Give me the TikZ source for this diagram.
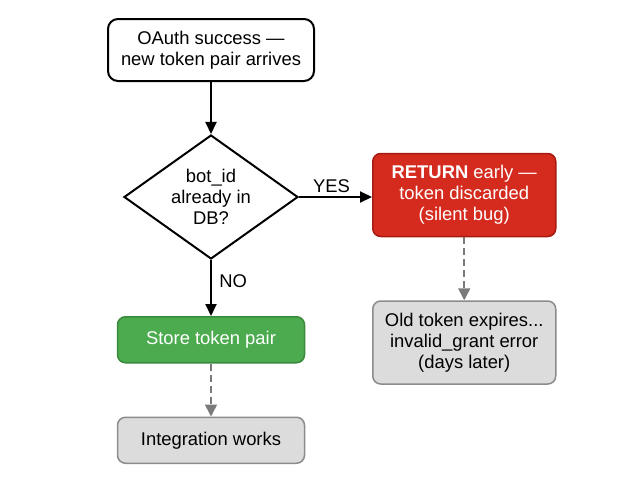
\documentclass[tikz,border=0pt]{standalone}
\usepackage{fontspec}
\setmainfont{Liberation Sans}
\usepackage{tikz}
\usetikzlibrary{arrows.meta,positioning,shapes.geometric}
\definecolor{FlowRed}{HTML}{D52B1E}
\definecolor{FlowRedDark}{HTML}{A61C12}
\definecolor{FlowGreen}{HTML}{4DAB4F}
\definecolor{FlowGreenDark}{HTML}{3A8A3C}
\definecolor{FlowGray}{HTML}{DCDCDC}
\definecolor{FlowGrayDark}{HTML}{8C8C8C}
\definecolor{FlowDash}{HTML}{7A7A7A}

\begin{document}
\begin{tikzpicture}[x=1pt,y=-1pt,every node/.style={font=\fontsize{18.4}{21}\selectfont},
  box/.style={draw,rounded corners=8pt,line width=1.5pt,align=center,inner sep=0pt},
  arr/.style={-{Triangle[length=12pt,width=11pt]},line width=2pt},
  darr/.style={-{Triangle[length=12pt,width=12pt]},line width=1.6pt,FlowDash,dash pattern=on 7pt off 4pt}]
\useasboundingbox (0,0) rectangle (638,477);
\node[box,fill=white,line width=2pt,rounded corners=10pt,minimum width=206pt,minimum height=62pt] (start) at (211,50) {OAuth success ---\\new token pair arrives};
\node[draw,diamond,line width=2pt,shape aspect=1.4,inner sep=0pt,minimum width=174pt,minimum height=124pt,align=center,below=52pt of start] (dec) {bot\_id\\already in\\DB?};
\node[box,fill=FlowRed,draw=FlowRedDark,text=white,minimum width=183pt,minimum height=83pt,right=73pt of dec,yshift=2pt] (ret) {\textbf{RETURN} early ---\\token discarded\\(silent bug)};
\node[box,fill=FlowGray,draw=FlowGrayDark,minimum width=183pt,minimum height=83pt,below=63pt of ret] (old) {Old token expires...\\invalid\_grant error\\(days later)};
\node[box,fill=FlowGreen,draw=FlowGreenDark,text=white,minimum width=187pt,minimum height=46pt,below=56pt of dec] (store) {Store token pair};
\node[box,fill=FlowGray,draw=FlowGrayDark,minimum width=187pt,minimum height=46pt,below=53pt of store] (works) {Integration works};
\draw[arr] (start)--(dec);
\draw[arr] (dec.east)--node[above,xshift=-4pt]{YES} (ret.west|-dec.east);
\draw[arr] (dec)--node[pos=0.38,right=4pt]{NO} (store);
\draw[darr] (ret)--(old);
\draw[darr] (store)--(works);
\end{tikzpicture}
\end{document}
